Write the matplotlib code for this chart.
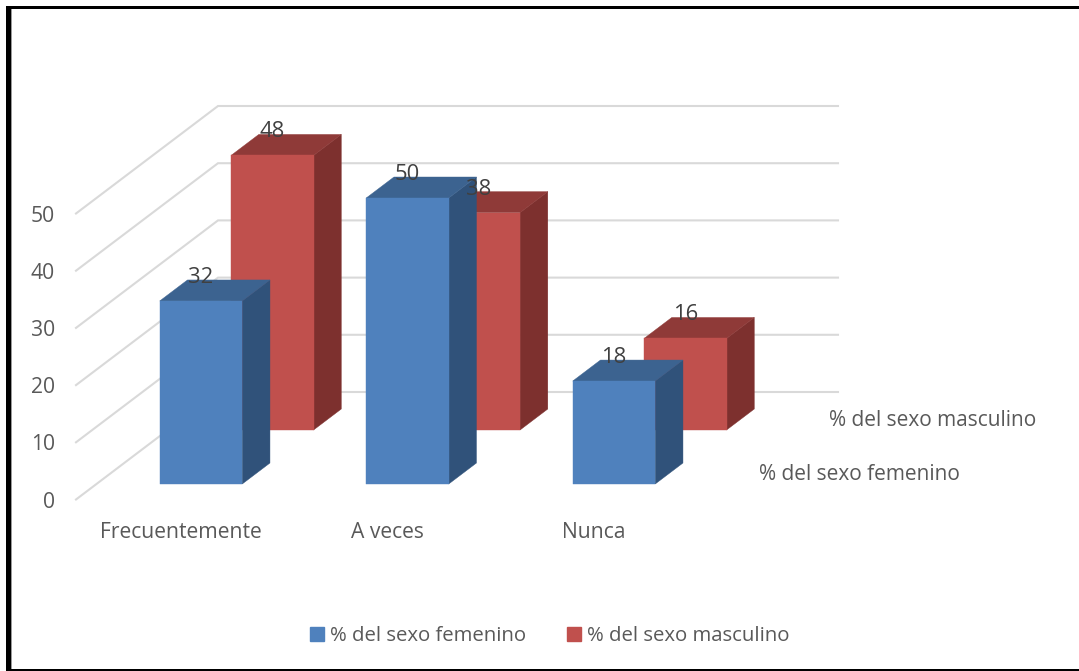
import matplotlib
matplotlib.use("Agg")
import matplotlib.pyplot as plt
from matplotlib.patches import Patch, Polygon, Rectangle

plt.rcParams['font.family'] = ['Open Sans', 'DejaVu Sans']

W, H = 1079, 671

categories = ["Frecuentemente", "A veces", "Nunca"]
femenino = [32, 50, 18]
masculino = [48, 38, 16]
y_ticks = [0, 10, 20, 30, 40, 50]
name_f = "% del sexo femenino"
name_m = "% del sexo masculino"

# pixel layout of the fake 3d box
left, right, bottom, top = 76, 696, 499.5, 213.5
px_x = 206.5
px_y = (bottom - top) / 50
x0 = -(180.5 - left) / px_x
x1 = x0 + (right - left) / px_x

# depth 0 = front of the floor, depth 1 = back wall
dx = 142 / px_x
dy = 107.5 / px_y
bar_w = 82.5 / px_x
bar_d = 21 / 107.5
depth_f = 15.5 / 107.5
depth_m = 69.5 / 107.5


def proj(x, y, d):
    return x + d * dx, y + d * dy


def bar3d(ax, i, v, d, front, roof, side, z):
    a, b = i - bar_w / 2, i + bar_w / 2
    e = d + bar_d
    faces = [
        ([proj(b, 0, d), proj(b, 0, e), proj(b, v, e), proj(b, v, d)], side),
        ([proj(a, v, d), proj(b, v, d), proj(b, v, e), proj(a, v, e)], roof),
        ([proj(a, 0, d), proj(b, 0, d), proj(b, v, d), proj(a, v, d)], front),
    ]
    for pts, c in faces:
        ax.add_patch(Polygon(pts, closed=True, facecolor=c, edgecolor=c, lw=0.3,
                             clip_on=False, zorder=z))


fig = plt.figure(figsize=(W / 100, H / 100), dpi=100, facecolor='white')
ax = fig.add_axes([left / W, 1 - bottom / H, (right - left) / W, (bottom - top) / H])
ax.set_xlim(x0, x1)
ax.set_ylim(0, 50)
ax.patch.set_visible(False)
for s in ax.spines.values():
    s.set_visible(False)

ax.set_xticks(range(len(categories)))
ax.set_xticklabels(categories)
ax.set_yticks(y_ticks)
ax.tick_params(axis='x', length=0, pad=16, labelsize=15.2, labelcolor='#595959')
ax.tick_params(axis='y', length=0, pad=15, labelsize=15.2, labelcolor='#595959')
for t in ax.get_yticklabels():
    t.set_va('center_baseline')

for v in y_ticks:
    xa, ya = proj(x0, v, 0)
    xb, yb = proj(x0, v, 1)
    xc, yc = proj(x1, v, 1)
    ax.plot([xa, xb, xc], [ya, yb, yc], color='#D9D9D9', lw=1.5, clip_on=False, zorder=1,
            solid_joinstyle='miter')

for i, v in enumerate(masculino):
    bar3d(ax, i, v, depth_m, '#C0504D', '#8F3A38', '#7D302E', 2 + i * 0.1)
for i, v in enumerate(femenino):
    bar3d(ax, i, v, depth_f, '#4F81BD', '#3C6390', '#30527A', 3 + i * 0.1)

for vals, d in [(femenino, depth_f), (masculino, depth_m)]:
    for i, v in enumerate(vals):
        ax.annotate(str(v), proj(i, v, d), xytext=(0, 17), textcoords='offset points',
                    ha='center', va='center', fontsize=15.8, color='#404040',
                    annotation_clip=False, zorder=6)

# series names on the depth axis
fig.text(859.5 / W, 1 - 474.5 / H, name_f, ha='center', va='center', fontsize=15, color='#595959')
fig.text(932.5 / W, 1 - 420.5 / H, name_m, ha='center', va='center', fontsize=15, color='#595959')

handles = [Patch(color='#4F81BD', label=name_f), Patch(color='#C0504D', label=name_m)]
fig.legend(handles=handles, loc='center', bbox_to_anchor=(550 / W, 1 - 636 / H), ncol=2,
           frameon=False, fontsize=14.7, labelcolor='#595959', handlelength=0.68,
           handleheight=0.68, handletextpad=0.3, columnspacing=2.0)

# black frame of the screenshot (no right side)
for x, y, w, h, c in [(6, 6, 1073, 3, 'black'), (6, 6, 5, 665, 'black'),
                      (6, 669, 1073, 2, 'black'), (11, 9, 1, 660, '#999999')]:
    fig.add_artist(Rectangle((x / W, 1 - (y + h) / H), w / W, h / H, transform=fig.transFigure,
                             facecolor=c, edgecolor='none'))

fig.savefig("out.png", dpi=100)
